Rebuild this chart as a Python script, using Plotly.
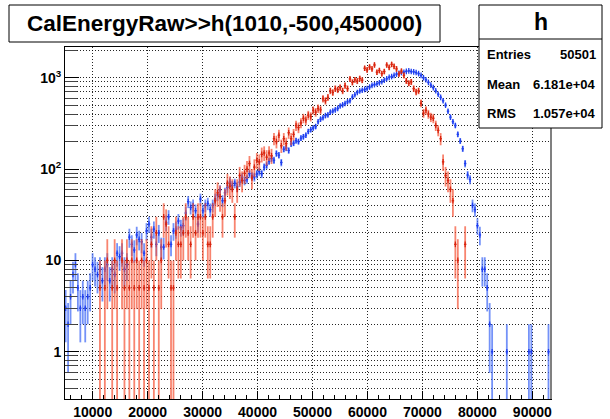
import math
import plotly.graph_objects as go

# Binning of h(1010,-500,450000)
N_BINS = 1010
X_LO, X_HI = -500.0, 450000.0
BIN_W = (X_HI - X_LO) / N_BINS

# Blue histogram (h): raw counts per bin, first entry is bin BLUE_FIRST
BLUE_FIRST = 12
blue_counts = [
    3, 2, 4, 7, 9, 5, 3, 4, 3, 4, 5, 9, 8, 7, 8, 6, 8, 9, 6, 8,          # 12-31
    7, 12, 11, 12, 8, 9, 18, 15, 13, 19, 17, 16, 12, 21, 25, 18, 22, 15, 20, 14,  # 32-51
    14, 26, 30, 15, 21, 22, 27, 23, 24, 33, 44, 38, 40, 35, 25, 47, 35, 40, 42, 36,  # 52-71
    40, 47, 52, 59, 45, 55, 63, 72, 66, 70, 64, 72, 81, 75, 78, 89, 84, 82, 88, 94,  # 72-91
    89, 105, 110, 122, 130, 125, 148, 142, 118, 165, 170, 160, 188, 192, 205, 200, 218, 226, 235, 258,  # 92-111
    270, 282, 292, 330, 352, 365, 385, 392, 420, 432, 445, 462, 490, 505, 522, 545, 560, 615, 650, 690,  # 112-131
    715, 730, 745, 760, 790, 825, 840, 860, 880, 905, 940, 975, 1010, 1030, 1060, 1095, 1120, 1140, 1150, 1175,  # 132-151
    1190, 1170, 1160, 1140, 1110, 1060, 1000, 950, 890, 830, 780, 720, 660, 610, 560, 500, 430, 370, 330, 300,  # 152-171
    240, 203, 167, 115, 86, 77, 40, 36, 24, 19, 8, 8, 5, 2, 1, 0, 0, 0, 0, 0,  # 172-191
    1, 0, 0, 0, 0, 0, 0, 0, 0, 1, 1, 0, 0, 0, 0, 0, 0, 1, 0,  # 192-210
]

# Red histogram: weighted entries (weight RED_WEIGHT per entry), first entry is bin RED_FIRST
RED_WEIGHT = 5
RED_FIRST = 26
red_values = [
    5, 0, 5, 10, 0, 5, 10, 5, 0, 10, 5, 10, 5, 10, 5, 10, 5, 10, 5, 10,  # 26-45
    5, 15, 5, 20, 5, 10, 30, 25, 15, 5, 5, 20, 15, 15, 20, 30, 20, 15, 30, 20,  # 46-65
    30, 30, 20, 30, 15, 15, 30, 45, 55, 50, 30, 45, 70, 65, 60, 30, 60, 85, 75, 90,  # 66-85
    100, 115, 80, 105, 125, 120, 145, 150, 135, 150, 140, 215, 200, 235, 180, 215, 190, 250, 215, 240,  # 86-105
    300, 285, 320, 360, 345, 390, 375, 440, 420, 460, 445, 590, 560, 610, 720, 690, 760, 740, 780, 720,  # 106-125
    820, 760, 970, 890, 950, 920, 980, 940, 1270, 1220, 1310, 1250, 1380, 1150, 1200, 1110, 1170, 1380, 1300, 1400,  # 126-145
    1330, 1250, 1100, 1180, 1060, 925, 870, 900, 760, 700, 720, 525, 410, 440, 400, 370, 360, 300, 265, 215,  # 146-165
    120, 85, 75, 60, 45, 15, 10, 0, 0, 15,  # 166-175
]

x_ticks = [10000, 20000, 30000, 40000, 50000, 60000, 70000, 80000, 90000]
x_tick_text = [str(v) for v in x_ticks]
y_ticks = [1, 10, 100, 1000]
y_tick_text = ["1", "10", "10<sup>2</sup>", "10<sup>3</sup>"]

title_text = "CalEnergyRaw>>h(1010,-500,450000)"
stats_name = "h"
stats_labels = ["Entries", "Mean", "RMS"]
stats_values = ["50501", "6.181e+04", "1.057e+04"]

X_RANGE = [4960, 93400]
Y_RANGE = [math.log10(0.304), math.log10(2170)]

FONT = "Liberation Sans"


def series(first, values, weight):
    xs, ys, errs = [], [], []
    for i, v in enumerate(values):
        if v <= 0:
            continue
        k = first + i
        xs.append(X_LO + (k + 0.5) * BIN_W)
        ys.append(v)
        errs.append(math.sqrt(weight * v))
    return xs, ys, errs


def hist_trace(xs, ys, errs, dark, light):
    return go.Scatter(
        x=xs, y=ys, mode="markers",
        marker=dict(symbol="line-ns", size=4, color=dark,
                    line=dict(color=dark, width=1.3)),
        error_y=dict(type="data", array=errs, arrayminus=errs, symmetric=False,
                     color=light, thickness=1.8, width=0),
        error_x=dict(type="constant", value=BIN_W / 2, color=dark,
                     thickness=1.3, width=0),
        showlegend=False, hoverinfo="skip", cliponaxis=True,
    )


bx, by, be = series(BLUE_FIRST, blue_counts, 1)
rx, ry, re_ = series(RED_FIRST, red_values, RED_WEIGHT)

fig = go.Figure()
fig.add_trace(hist_trace(bx, by, be, "#1f3ff0", "rgba(70,110,245,0.75)"))
fig.add_trace(hist_trace(rx, ry, re_, "#d8240e", "rgba(245,80,50,0.7)"))

# minor log grid/ticks at 2..9 x 10^n
minor_vals = [m * 10 ** e for e in range(-1, 4) for m in range(2, 10)]
minor_vals = [v for v in minor_vals if 0.304 < v < 2170]

grid_color = "rgba(0,0,0,0.85)"
grid_dash = "1px,2px"

fig.update_layout(
    width=610, height=419,
    margin=dict(l=65, r=59, t=47, b=20, autoexpand=False),
    paper_bgcolor="white", plot_bgcolor="white",
    font=dict(family=FONT, color="black"),
    xaxis=dict(
        range=X_RANGE, showline=True, linecolor="black", linewidth=1, mirror=True,
        automargin=False,
        tickmode="array", tickvals=x_ticks, ticktext=x_tick_text,
        ticks="inside", ticklen=8, tickcolor="black", tickwidth=1,
        tickfont=dict(family=FONT, size=14, weight="bold", color="black"),
        showgrid=True, gridcolor=grid_color, griddash=grid_dash, gridwidth=1,
        zeroline=False,
        minor=dict(dtick=2000, tick0=0, ticks="inside", ticklen=4,
                   tickcolor="black", showgrid=False),
    ),
    yaxis=dict(
        type="log", range=Y_RANGE, showline=True, linecolor="black", linewidth=1,
        mirror=True, automargin=False,
        tickmode="array", tickvals=y_ticks, ticktext=y_tick_text,
        ticks="inside", ticklen=14, tickcolor="black", tickwidth=1,
        tickfont=dict(family=FONT, size=14, weight="bold", color="black"),
        showgrid=True, gridcolor=grid_color, griddash=grid_dash, gridwidth=1,
        zeroline=False,
        minor=dict(tickmode="array", tickvals=minor_vals, ticks="inside",
                   ticklen=12, tickcolor="#444", showgrid=True,
                   gridcolor=grid_color, griddash=grid_dash, gridwidth=1),
    ),
)

PW, PH, L, T = 486.0, 352.0, 65.0, 47.0


def px(xp):
    return (xp - L) / PW


def py(yp):
    return (T + PH - yp) / PH


shapes = [
    # right edge of the frame drawn a little heavier
    dict(type="line", xref="paper", yref="paper", x0=1, x1=1, y0=0, y1=1,
         line=dict(color="#808080", width=2), layer="above"),
    # title box
    dict(type="rect", xref="paper", yref="paper", x0=px(9), x1=px(440), y0=py(42), y1=py(5),
         line=dict(color="black", width=1), fillcolor="white", layer="above"),
    # stats box
    dict(type="rect", xref="paper", yref="paper", x0=px(479), x1=px(602), y0=py(128), y1=py(5),
         line=dict(color="black", width=1), fillcolor="white", layer="above"),
    dict(type="line", xref="paper", yref="paper", x0=px(479), x1=px(602), y0=py(39), y1=py(39),
         line=dict(color="black", width=1), layer="above"),
]

annotations = [
    dict(text=title_text, xref="paper", yref="paper", x=px(224.5), y=py(23.5),
         xanchor="center", yanchor="middle", showarrow=False,
         font=dict(family=FONT, size=22.5, weight="bold", color="black")),
    dict(text=stats_name, xref="paper", yref="paper", x=px(540.5), y=py(22),
         xanchor="center", yanchor="middle", showarrow=False,
         font=dict(family=FONT, size=23, weight="bold", color="black")),
]
row_y = [55, 84, 113]
for lab, val, yy in zip(stats_labels, stats_values, row_y):
    annotations.append(dict(text=lab, xref="paper", yref="paper", x=px(485), y=py(yy),
                            xanchor="left", yanchor="middle", showarrow=False,
                            font=dict(family=FONT, size=13, weight="bold", color="black")))
    annotations.append(dict(text=val, xref="paper", yref="paper", x=px(598), y=py(yy),
                            xanchor="right", yanchor="middle", showarrow=False,
                            font=dict(family=FONT, size=13, weight="bold", color="black")))

fig.update_layout(shapes=shapes, annotations=annotations)

fig.write_html("out.html")
